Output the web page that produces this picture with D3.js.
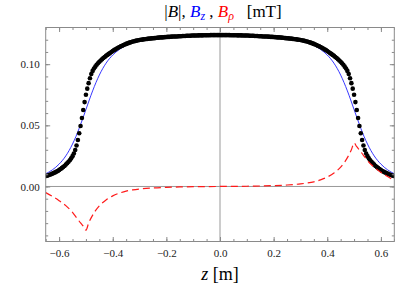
<!DOCTYPE html>
<html><head><meta charset="utf-8">
<script src="https://cdn.jsdelivr.net/npm/d3@7"></script>
<style>html,body{margin:0;padding:0;background:#fff;}svg{display:block;}</style>
</head><body>
<svg id="chart" width="395" height="286"></svg>
<script>
// |B| sampled every 0.005 m from z = -0.65 to 0.65 (black dots)
const bAbs = [
.0085,.0088,.0092,.0096,.0100,.0105,.0110,.0115,.0121,.0127,.0134,
.0142,.0150,.0159,.0168,.0179,.0190,.0202,.0215,.0230,.0248,
.0270,.0298,.0335,.0380,.0435,.0495,.0560,.0625,.0690,.0750,
.0800,.0845,.0885,.0920,.0945,.0965,.0980,.0995,.1008,.1020,
.1030,.1040,.1050,.1059,.1068,.1076,.1084,.1092,.1100,.1108,
.1115,.1121,.1128,.1134,.1140,.1146,.1151,.1156,.1161,.1166,
.1170,.1174,.1178,.1182,.1185,.1188,.1191,.1193,.1196,.1198,
.1200,.1201,.1203,.1204,.1206,.1207,.1209,.1210,.1211,.1212,
.1213,.1214,.1216,.1217,.1218,.1219,.1219,.1220,.1221,.1222,
.1223,.1223,.1224,.1225,.1226,.1226,.1227,.1227,.1228,.1229,
.1229,.1230,.1230,.1231,.1232,.1232,.1233,.1233,.1234,.1234,
.1234,.1235,.1235,.1236,.1236,.1236,.1236,.1237,.1237,.1237,
.1237,.1237,.1238,.1238,.1238,.1238,.1238,.1238,.1238,
.1238,
.1238,.1238,.1238,.1238,.1238,.1238,.1238,.1237,.1237,
.1237,.1237,.1237,.1236,.1236,.1236,.1236,.1235,.1235,.1234,
.1234,.1234,.1233,.1233,.1232,.1232,.1231,.1230,.1230,.1229,
.1229,.1228,.1227,.1227,.1226,.1226,.1225,.1224,.1223,.1223,
.1222,.1221,.1220,.1219,.1219,.1218,.1217,.1216,.1214,.1213,
.1212,.1211,.1210,.1209,.1207,.1206,.1204,.1203,.1201,.1200,
.1198,.1196,.1193,.1191,.1188,.1185,.1182,.1178,.1174,.1170,
.1166,.1161,.1156,.1151,.1146,.1140,.1134,.1128,.1121,.1115,
.1108,.1100,.1092,.1084,.1076,.1068,.1059,.1050,.1040,.1030,
.1020,.1008,.0995,.0980,.0965,.0945,.0920,.0885,.0845,.0800,
.0750,.0690,.0625,.0560,.0495,.0435,.0380,.0335,.0298,.0270,
.0248,.0230,.0215,.0202,.0190,.0179,.0168,.0159,.0150,.0142,
.0134,.0127,.0121,.0115,.0110,.0105,.0100,.0096,.0092,.0088,.0085
];
const zAbs = d3.range(bAbs.length).map(i => -0.65 + i * 0.005);

// Bz (blue line)
const zBz = [-0.65,-0.625,-0.6,-0.575,-0.55,-0.5375,-0.525,-0.5125,-0.5,-0.4875,-0.475,-0.4625,-0.45,-0.425,-0.4,-0.375,-0.35,-0.325,-0.3,-0.275,-0.25,-0.225,-0.2,-0.175,-0.15,-0.125,-0.1,-0.075,-0.05,-0.025,
 0,0.025,0.05,0.075,0.1,0.125,0.15,0.175,0.2,0.225,0.25,0.275,0.3,0.325,0.35,0.375,0.4,0.425,0.45,0.4625,0.475,0.4875,0.5,0.5125,0.525,0.5375,0.55,0.575,0.6,0.625,0.65];
const bZ = [.0104,.0136,.0183,.0250,.0347,.0407,.0476,.0551,.0629,.0707,.0782,.0850,.0911,.1008,.1075,.1121,.1154,.1176,.1192,.1204,.1213,.1220,.1225,.1229,.1232,.1235,.1237,.1238,.1239,.1239,
 .1240,.1239,.1239,.1238,.1237,.1235,.1232,.1229,.1225,.1220,.1213,.1204,.1192,.1176,.1154,.1121,.1075,.1008,.0911,.0850,.0782,.0707,.0629,.0551,.0476,.0407,.0347,.0250,.0183,.0136,.0104];

// B_rho (red dashed)
const zRho = [-0.65,-0.625,-0.6,-0.575,-0.55,-0.535,-0.52,-0.51,-0.5,-0.49,-0.48,-0.465,-0.45,-0.425,-0.4,-0.375,-0.35,-0.325,-0.3,-0.25,-0.2,-0.15,-0.1,-0.05,
 0,0.05,0.1,0.15,0.2,0.25,0.3,0.325,0.35,0.375,0.4,0.425,0.45,0.465,0.48,0.49,0.5,0.51,0.52,0.535,0.55,0.575,0.6,0.625,0.65];
const bRho = [-.0050,-.0081,-.0116,-.0157,-.0212,-.0255,-.0298,-.0325,-.0358,-.0300,-.0255,-.0200,-.0158,-.0110,-.0077,-.0054,-.0038,-.0028,-.0021,-.0012,-.0007,-.0004,-.0002,-.0001,
 0,.0001,.0002,.0004,.0007,.0012,.0021,.0028,.0038,.0054,.0077,.0110,.0158,.0200,.0255,.0300,.0355,.0325,.0298,.0255,.0212,.0157,.0116,.0081,.0050];

const xMajor = [-0.6,-0.4,-0.2,0,0.2,0.4,0.6];
const xMinor = d3.range(-13,14).map(i => i*0.05);
const yMajor = [0,0.05,0.10];
const yMinor = d3.range(-4,13).map(i => i*0.01);

const L = 45.7, R = 394.3, T = 27.5, B = 241.5;
const x = d3.scaleLinear().domain([-0.65,0.65]).range([L,R]);
const y = d3.scaleLinear().domain([-0.045,0.13]).range([B,T]);

const serif = "Liberation Serif";
const svg = d3.select("#chart");
const frameCol = "#8a8a8a";
const fmtX = d => d3.format(".1f")(d).replace("-", "\u2212");
const fmtY = d => d3.format(".2f")(d);

svg.append("defs").append("clipPath").attr("id","clip")
  .append("rect").attr("x",L).attr("y",T).attr("width",R-L).attr("height",B-T);

// zero axes
svg.append("line").attr("x1",x(0)).attr("x2",x(0)).attr("y1",T).attr("y2",B)
  .attr("stroke","#999").attr("stroke-width",1);
svg.append("line").attr("x1",L).attr("x2",R).attr("y1",y(0)).attr("y2",y(0))
  .attr("stroke","#999").attr("stroke-width",1);

const plot = svg.append("g").attr("clip-path","url(#clip)");

const lineBz = d3.line().x((d,i)=>x(zBz[i])).y(d=>y(d)).curve(d3.curveMonotoneX);
plot.append("path").datum(bZ).attr("d",lineBz).attr("fill","none")
  .attr("stroke","#2020ff").attr("stroke-width",0.9);

plot.selectAll("circle.dot").data(bAbs).join("circle").attr("class","dot")
  .attr("cx",(d,i)=>x(zAbs[i])).attr("cy",d=>y(d)).attr("r",2.3).attr("fill","#000");

const lineRho = d3.line().x((d,i)=>x(zRho[i])).y(d=>y(d)).curve(d3.curveMonotoneX);
plot.append("path").datum(bRho).attr("d",lineRho).attr("fill","none")
  .attr("stroke","#ff1a1a").attr("stroke-width",1.2).attr("stroke-dasharray","7,4");

// axes
function styleAxis(g){
  g.attr("font-family", serif).attr("font-size", 11);
  g.select(".domain").remove();
  g.selectAll(".tick line").attr("stroke",frameCol);
  g.selectAll(".tick text").attr("fill","#222");
}
svg.append("g").attr("transform",`translate(0,${B})`)
  .call(d3.axisBottom(x).tickValues(xMinor).tickSize(-2.5).tickFormat(""))
  .call(styleAxis);
svg.append("g").attr("transform",`translate(0,${B})`)
  .call(d3.axisBottom(x).tickValues(xMajor).tickSize(-4.5).tickPadding(8).tickFormat(fmtX))
  .call(styleAxis);
svg.append("g").attr("transform",`translate(0,${T})`)
  .call(d3.axisTop(x).tickValues(xMinor).tickSize(-2.5).tickFormat(""))
  .call(styleAxis);
svg.append("g").attr("transform",`translate(0,${T})`)
  .call(d3.axisTop(x).tickValues(xMajor).tickSize(-4.5).tickFormat(""))
  .call(styleAxis);
svg.append("g").attr("transform",`translate(${L},0)`)
  .call(d3.axisLeft(y).tickValues(yMinor).tickSize(-2.5).tickFormat(""))
  .call(styleAxis);
svg.append("g").attr("transform",`translate(${L},0)`)
  .call(d3.axisLeft(y).tickValues(yMajor).tickSize(-4.5).tickPadding(6).tickFormat(fmtY))
  .call(styleAxis);
svg.append("g").attr("transform",`translate(${R},0)`)
  .call(d3.axisRight(y).tickValues(yMinor).tickSize(-2.5).tickFormat(""))
  .call(styleAxis);
svg.append("g").attr("transform",`translate(${R},0)`)
  .call(d3.axisRight(y).tickValues(yMajor).tickSize(-4.5).tickFormat(""))
  .call(styleAxis);

svg.append("rect").attr("x",L).attr("y",T).attr("width",R-L).attr("height",B-T)
  .attr("fill","none").attr("stroke",frameCol).attr("stroke-width",1);

// title
const title = svg.append("text").attr("x",223).attr("y",17).attr("text-anchor","middle")
  .attr("font-family",serif).attr("font-size",17).attr("fill","#000");
title.append("tspan").text("|");
title.append("tspan").attr("font-style","italic").text("B");
title.append("tspan").text("|, ");
title.append("tspan").attr("font-style","italic").attr("fill","#0000ff").text("B");
title.append("tspan").attr("font-style","italic").attr("fill","#0000ff").attr("font-size",12).attr("dy",3).text("z");
title.append("tspan").attr("dy",-3).text(" , ");
title.append("tspan").attr("font-style","italic").attr("fill","#ff0000").text("B");
title.append("tspan").attr("font-style","italic").attr("fill","#ff0000").attr("font-size",12).attr("dy",3).text("\u03C1");
title.append("tspan").attr("dy",-3).text("\u00A0\u00A0\u00A0[mT]");

// x label
const xl = svg.append("text").attr("x",220).attr("y",280).attr("text-anchor","middle")
  .attr("font-family",serif).attr("font-size",18).attr("fill","#000");
xl.append("tspan").attr("font-style","italic").text("z");
xl.append("tspan").text(" [m]");
</script>
</body></html>
